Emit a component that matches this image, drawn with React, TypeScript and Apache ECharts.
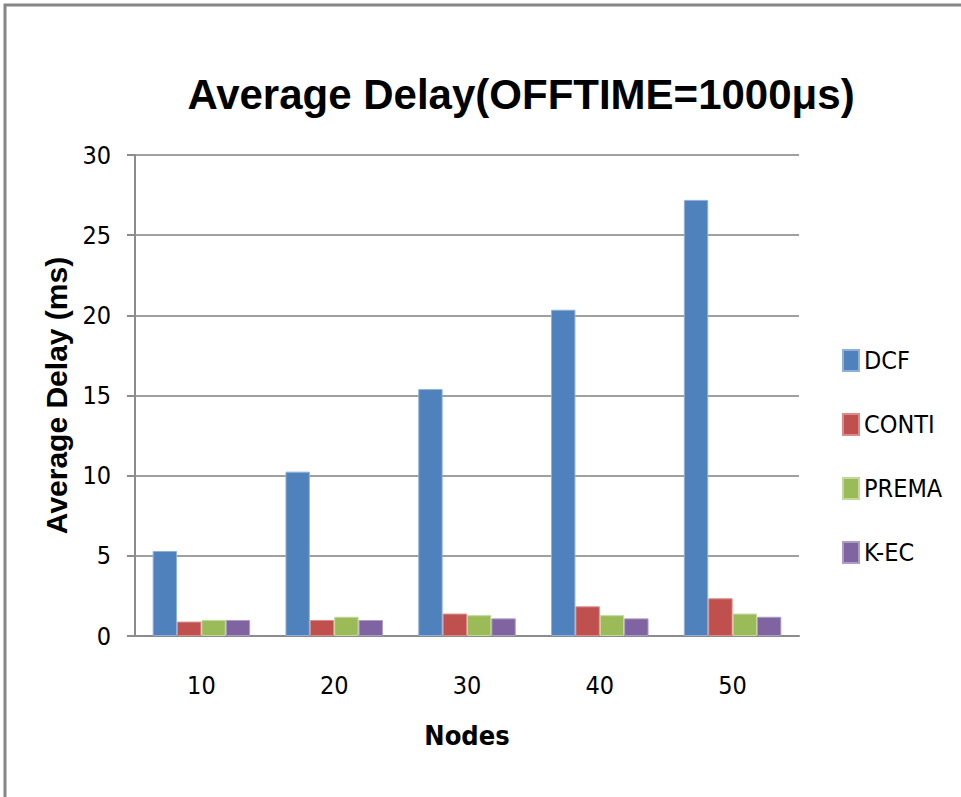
import React, { useEffect, useRef } from "react";
import * as echarts from "echarts";

const categories = ["10", "20", "30", "40", "50"];
const seriesNames = ["DCF", "CONTI", "PREMA", "K-EC"];
const dcf = [5.3, 10.25, 15.4, 20.35, 27.2];
const conti = [0.9, 1.0, 1.4, 1.85, 2.35];
const prema = [1.0, 1.2, 1.3, 1.3, 1.4];
const kec = [1.0, 1.0, 1.1, 1.1, 1.2];
const colors = ["#4F81BD", "#C0504D", "#9BBB59", "#8064A2"];
const borderColors = ["#8fb0d8", "#d98c8a", "#c3d99c", "#ad9cc6"];
const yTicks = { min: 0, max: 30, interval: 5 };
const titleText = "Average Delay(OFFTIME=1000μs)";
const xName = "Nodes";
const yName = "Average Delay (ms)";

const NARROW = "'Liberation Sans Narrow', 'DejaVu Sans Condensed', 'Liberation Sans', sans-serif";
const SANS = "'Liberation Sans', Arial, sans-serif";

export default function App() {
  const ref = useRef<HTMLDivElement>(null);
  useEffect(() => {
    document.body.style.margin = "0";
    if (!ref.current) return;
    const chart = echarts.init(ref.current, null, { renderer: "svg" });
    const data = [dcf, conti, prema, kec];
    chart.setOption({
      animation: false,
      backgroundColor: "#ffffff",
      title: {
        text: titleText,
        left: 516,
        textAlign: "center",
        top: 68,
        textStyle: { fontFamily: SANS, fontWeight: "bold", fontSize: 42, color: "#000" },
      },
      graphic: [
        {
          type: "rect",
          shape: { x: 5, y: 5, width: 1000, height: 1000 },
          style: { fill: "none", stroke: "#868686", lineWidth: 3 },
          silent: true,
        },
      ],
      legend: {
        orient: "vertical",
        left: 842,
        top: 348,
        padding: 0,
        itemWidth: 16,
        itemHeight: 21,
        itemGap: 39,
        icon: "rect",
        data: seriesNames,
        textStyle: { fontFamily: NARROW, fontSize: 25, color: "#000" },
      },
      grid: { left: 135, right: 162, top: 155, bottom: 161, containLabel: false },
      xAxis: {
        type: "category",
        data: categories,
        name: xName,
        nameLocation: "middle",
        nameGap: 86,
        nameTextStyle: { fontFamily: NARROW, fontWeight: "bold", fontSize: 27, color: "#000" },
        axisLine: { show: true, lineStyle: { color: "#8c8c8c", width: 2 } },
        axisTick: { show: false },
        axisLabel: { fontFamily: NARROW, fontSize: 25, color: "#000", margin: 37 },
        splitLine: { show: false },
      },
      yAxis: {
        type: "value",
        min: yTicks.min,
        max: yTicks.max,
        interval: yTicks.interval,
        name: yName,
        nameLocation: "middle",
        nameGap: 57,
        nameTextStyle: { fontFamily: SANS, fontWeight: "bold", fontSize: 30, color: "#000" },
        axisLine: { show: true, lineStyle: { color: "#8c8c8c", width: 2 } },
        axisTick: { show: true, length: 8, lineStyle: { color: "#8c8c8c", width: 2 } },
        axisLabel: { fontFamily: NARROW, fontSize: 25, color: "#000", margin: 24 },
        splitLine: { show: true, lineStyle: { color: "#a0a0a0", width: 2 } },
      },
      series: seriesNames.map((name, i) => ({
        name,
        type: "bar",
        data: data[i],
        barGap: "0%",
        barCategoryGap: "26.6%",
        itemStyle: { color: colors[i], borderColor: borderColors[i], borderWidth: 1 },
      })),
    });
    return () => chart.dispose();
  }, []);
  return <div ref={ref} style={{ width: 961, height: 797 }} />;
}
